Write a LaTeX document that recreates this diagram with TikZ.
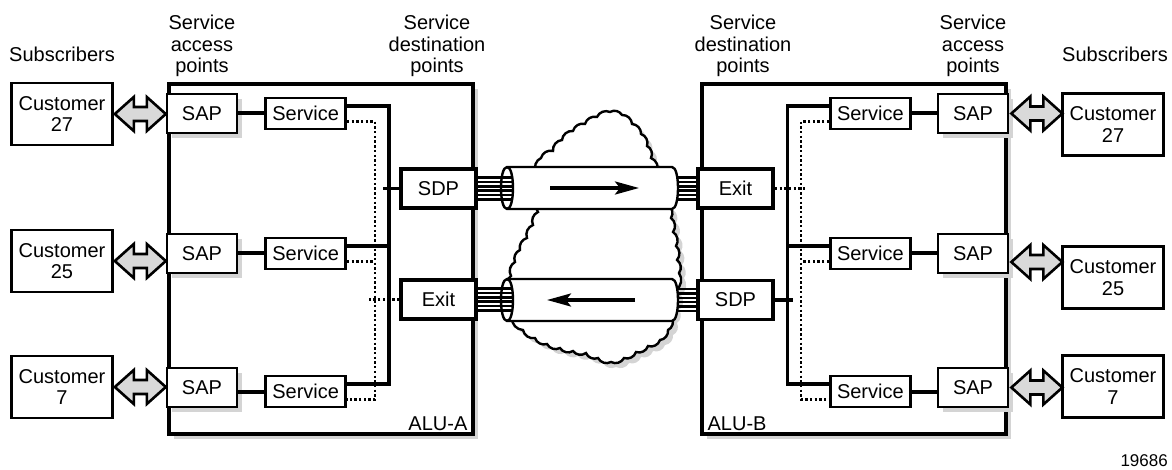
\documentclass[tikz,border=0pt]{standalone}
\usepackage{fontspec}
\setmainfont{Liberation Sans}
\usetikzlibrary{positioning,shadows,arrows.meta}

\newcommand{\fatarrow}{-- ++(19,-17) -- ++(0,10) -- ++(13,0) -- ++(0,-10) -- ++(19,17) -- ++(-19,17) -- ++(0,-10) -- ++(-13,0) -- ++(0,10) -- cycle}
\newcommand{\cloudline}{(536,172) \foreach \x/\y in {541/158,553/151,562/140,573/131,585/124,597/117,610/112,622/115,632/124,641/134,647/146,651/158,657/172,665/190,668/205,671/218,673/232,676/246,677/260,679/273,676/290,674/305,672/318,668/330,660/340,648/346,636/352,624/358,611/362,598/358,586/353,573/351,560/348,547/344,535/338,523/330,512/318,507/304,508/290,511/276,515/262,520/250,527/238,533/225,538/212,540/195,538/185} {to[bend left=45] (\x,\y)} -- cycle}

\begin{document}
\begin{tikzpicture}[x=1pt,y=-1pt,line join=miter,>={Stealth[length=24pt,width=13pt,inset=5pt]},
  every node/.style={font=\fontsize{20}{21.5}\selectfont,inner sep=0pt},
  custbox/.style={draw,line width=2.6pt,fill=white,minimum width=101pt,minimum height=62pt,align=center},
  sapbox/.style={draw,line width=2.7pt,fill=white,minimum width=70pt,minimum height=39pt,
    drop shadow={shadow xshift=5pt,shadow yshift=-5pt,fill=black!17,opacity=1}},
  servbox/.style={draw,line width=2.6pt,fill=white,minimum width=80pt,minimum height=31pt},
  portbox/.style={draw,line width=3.6pt,fill=white,minimum width=75pt,minimum height=39pt},
  alubox/.style={draw,line width=3.2pt,fill=white,minimum width=304pt,minimum height=350pt,
    drop shadow={shadow xshift=5pt,shadow yshift=-5pt,fill=black!17,opacity=1}},
  wire/.style={line width=3.1pt},
  dotwire/.style={line width=2.8pt,dash pattern=on 2.4pt off 2.3pt},
  link/.style={line width=4pt},
  dblarr/.style={line width=2.6pt,fill=black!15},
  strand/.style={line width=2.5pt},
  tube/.style={line width=2.4pt,fill=white}]
\useasboundingbox (0,0) rectangle (1172,470);

% routers
\node[alubox] (alua) at (321,259) {};
\node[alubox] (alub) at (854,259) {};
\node[above left=5pt and 7pt of alua.south east] (laba) {ALU-A};
\node[above right=5pt and 7pt of alub.south west] (labb) {ALU-B};

% network cloud and tunnels
\fill[black!17,xshift=5pt,yshift=-5pt] \cloudline;
\draw[line width=2.4pt,fill=white] \cloudline;

\coordinate (tubeAin) at (512,188);
\coordinate (tubeAout) at (672,188);
\coordinate (tubeBin) at (512,300);
\coordinate (tubeBout) at (672,300);

\node[portbox] (sdpa) at (438.5,188.5) {SDP};
\node[portbox] (exita) at (438.5,299.5) {Exit};
\node[portbox] (exitb) at (735.5,188.5) {Exit};
\node[portbox] (sdpb) at (735.5,300) {SDP};

\foreach \d in {-11,-6.6,-2.2,2.2,6.6,11} {
  \draw[strand] ([yshift=\d pt]exitb.west -| tubeAout) -- ([yshift=\d pt]exitb.west);
  \draw[strand] ([yshift=\d pt]sdpb.west -| tubeBout) -- ([yshift=\d pt]sdpb.west);
}
\draw[tube] (507,167) -- (672,167) .. controls (680,167) and (680,209) .. (672,209) -- (507,209) .. controls (499,209) and (499,167) .. (507,167) -- cycle;
\draw[tube] (507,279) -- (672,279) .. controls (680,279) and (680,321) .. (672,321) -- (507,321) .. controls (499,321) and (499,279) .. (507,279) -- cycle;
\foreach \d in {-11,-6.6,-2.2,2.2,6.6,11} {
  \draw[strand] ([yshift=\d pt]sdpa.east) -- ([yshift=\d pt]sdpa.east -| tubeAin);
  \draw[strand] ([yshift=\d pt]exita.east) -- ([yshift=\d pt]exita.east -| tubeBin);
}
\draw[line width=2.4pt] (507,167) .. controls (515,167) and (515,209) .. (507,209);
\draw[line width=2.4pt] (507,279) .. controls (515,279) and (515,321) .. (507,321);

\coordinate (fwa) at (550,188);
\coordinate (fwb) at (639,188);
\coordinate (bwa) at (635,300);
\coordinate (bwb) at (547,300);
\draw[->,line width=3.4pt] (fwa) -- (fwb);
\draw[->,line width=3.4pt] (bwa) -- (bwb);

% left side
\node[custbox] (cust27a) at (62,114) {Customer\\27};
\node[custbox] (cust25a) at (62,261) {Customer\\25};
\node[custbox] (cust7a) at (62,387) {Customer\\7};
\node[sapbox] (sap1a) at (202,113.5) {SAP};
\node[sapbox] (sap2a) at (202,253.5) {SAP};
\node[sapbox] (sap3a) at (202,387.5) {SAP};
\node[servbox,right=26pt of sap1a] (serv1a) {Service};
\node[servbox,right=26pt of sap2a] (serv2a) {Service};
\node[servbox,right=26pt of sap3a,yshift=-4pt] (serv3a) {Service};

% right side
\node[sapbox] (sap1b) at (973,113.5) {SAP};
\node[sapbox] (sap2b) at (973,253.5) {SAP};
\node[sapbox] (sap3b) at (973,387.5) {SAP};
\node[servbox,left=25pt of sap1b] (serv1b) {Service};
\node[servbox,left=25pt of sap2b] (serv2b) {Service};
\node[servbox,left=25pt of sap3b,yshift=-4pt] (serv3b) {Service};
\node[custbox] (cust27b) at (1113,124.5) {Customer\\27};
\node[custbox] (cust25b) at (1113,277.5) {Customer\\25};
\node[custbox] (cust7b) at (1113,386.5) {Customer\\7};

% access links
\draw[dblarr] ([xshift=1pt]cust27a.east) \fatarrow;
\draw[dblarr] ([xshift=1pt]cust25a.east) \fatarrow;
\draw[dblarr] ([xshift=1pt]cust7a.east) \fatarrow;
\draw[dblarr] ([xshift=2pt]sap1b.east) \fatarrow;
\draw[dblarr] ([xshift=2pt,yshift=-8.5pt]sap2b.east) \fatarrow;
\draw[dblarr] ([xshift=2pt]sap3b.east) \fatarrow;

\draw[link] (serv1a.west) -- (serv1a.west -| sap1a.east);
\draw[link] (serv2a.west) -- (serv2a.west -| sap2a.east);
\draw[link] (serv3a.west) -- (serv3a.west -| sap3a.east);
\draw[link] (serv1b.east) -- (serv1b.east -| sap1b.west);
\draw[link] (serv2b.east) -- (serv2b.east -| sap2b.west);
\draw[link] (serv3b.east) -- (serv3b.east -| sap3b.west);

% service buses
\draw[wire] ([yshift=7.5pt]serv1a.east) -- ++(42,0) |- ([yshift=7.5pt]serv3a.east);
\draw[wire] ([yshift=7.5pt]serv2a.east) -- ++(42,0);
\draw[wire] (sdpa.west) -- ++(-16,0);
\draw[dotwire] ([yshift=-8pt]serv1a.east) -- ++(28,0) |- ([yshift=-8pt]serv3a.east);
\draw[dotwire] ([yshift=-8pt]serv2a.east) -- ++(28,0);
\draw[dotwire] (exita.west) -- ++(-30,0);

\draw[wire] ([yshift=7.5pt]serv1b.west) -- ++(-42,0) |- ([yshift=7.5pt]serv3b.west);
\draw[wire] ([yshift=7.5pt]serv2b.west) -- ++(-42,0);
\draw[wire] (sdpb.east) -- ++(18,0);
\draw[dotwire] ([yshift=-8pt]serv1b.west) -- ++(-28,0) |- ([yshift=-8pt]serv3b.west);
\draw[dotwire] ([yshift=-8pt]serv2b.west) -- ++(-28,0);
\draw[dotwire] (exitb.east) -- ++(32,0);

% headings
\node[anchor=base] (subsa) at (62,62) {Subscribers};
\node[anchor=base] (subsb) at (1115,62) {Subscribers};
\node[align=center,anchor=north] (sapla) at (202,15) {Service\\access\\points};
\node[align=center,anchor=north] (sdpla) at (437,15) {Service\\destination\\points};
\node[align=center,anchor=north] (sdplb) at (743,15) {Service\\destination\\points};
\node[align=center,anchor=north] (saplb) at (973,15) {Service\\access\\points};
\node[anchor=base east,font=\fontsize{17}{18}\selectfont] (fignum) at (1168,466) {19686};
\end{tikzpicture}
\end{document}
